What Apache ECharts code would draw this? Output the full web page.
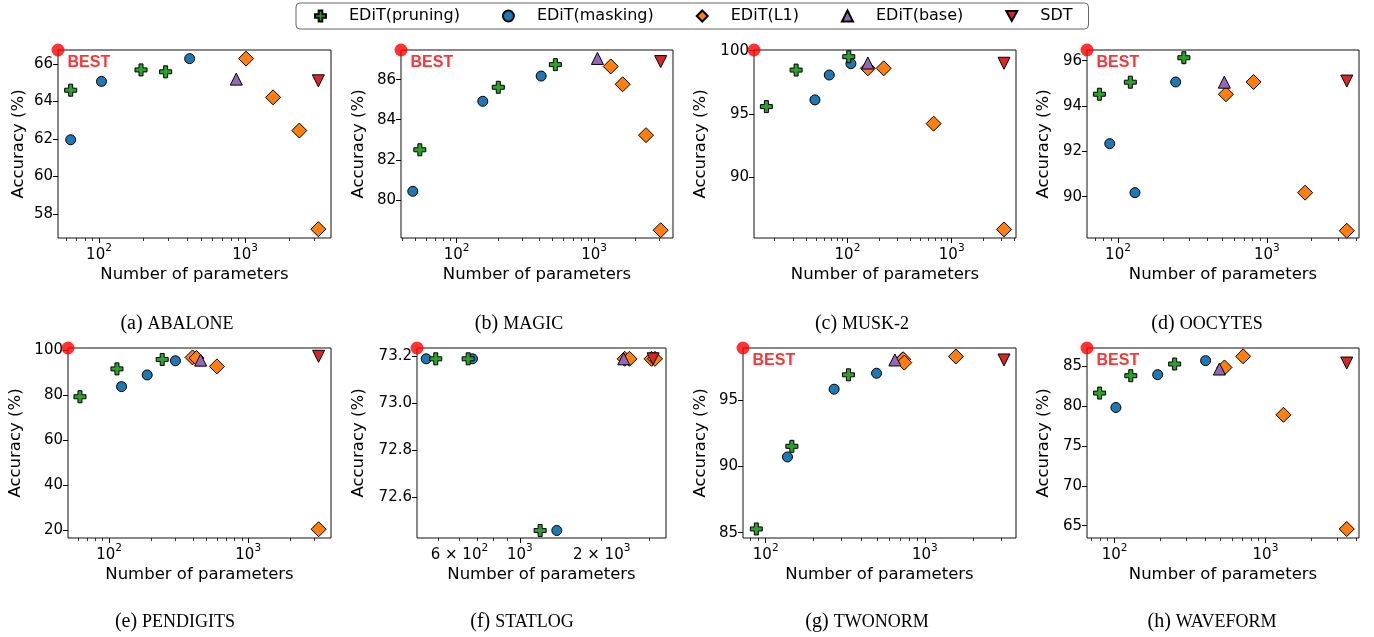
<!DOCTYPE html>
<html>
<head>
<meta charset="utf-8">
<script src="https://cdn.jsdelivr.net/npm/echarts@6/dist/echarts.min.js"></script>
<style>
html, body { margin: 0; padding: 0; background: #fff; }
#chart { width: 1374px; height: 637px; }
</style>
</head>
<body>
<div id="chart"></div>
<script>
// values: [number of parameters, accuracy (%)]
var abalonePruning = [[64, 64.6], [194, 65.68], [286, 65.58]];
var abaloneMasking = [[64, 61.96], [104, 65.07], [418, 66.28]];
var abaloneL1 = [[1016, 66.28], [1556, 64.22], [2355, 62.45], [3178, 57.2]];
var abaloneBase = [[871, 65.19]];
var abaloneSdt = [[3178, 65.1]];

var magicPruning = [[54, 82.5], [201, 85.62], [523, 86.75]];
var magicMasking = [[48, 80.43], [155, 84.92], [412, 86.18]];
var magicL1 = [[1322, 86.66], [1614, 85.77], [2387, 83.23], [3050, 78.49]];
var magicBase = [[1058, 87.06]];
var magicSdt = [[3050, 86.9]];

var muskPruning = [[16.7, 95.57], [32.2, 98.46], [103, 99.52]];
var muskMasking = [[48.8, 96.1], [67, 98.07], [108, 98.97]];
var muskL1 = [[157, 98.6], [223, 98.6], [671, 94.22], [3178, 85.85]];
var muskBase = [[157, 99.02]];
var muskSdt = [[3178, 99.0]];

var oocytesPruning = [[75, 94.52], [121, 95.05], [277, 96.13]];
var oocytesMasking = [[88, 92.34], [130, 90.18], [244, 95.06]];
var oocytesL1 = [[531, 94.52], [814, 95.06], [1808, 90.18], [3445, 88.5]];
var oocytesBase = [[518, 95.05]];
var oocytesSdt = [[3445, 95.1]];

var pendigitsPruning = [[61.8, 79.3], [114, 91.7], [241, 95.9]];
var pendigitsMasking = [[123, 83.8], [188, 89.0], [300, 95.3]];
var pendigitsL1 = [[398, 96.8], [425, 96.5], [596, 92.8], [3206, 20.3]];
var pendigitsBase = [[455, 95.6]];
var pendigitsSdt = [[3206, 97.3]];

var statlogPruning = [[491, 73.19], [646, 73.19], [1188, 72.46]];
var statlogMasking = [[453, 73.19], [670, 73.19], [1368, 72.46]];
var statlogL1 = [[2430, 73.19], [2530, 73.19], [3050, 73.19], [3140, 73.19]];
var statlogBase = [[2410, 73.19]];
var statlogSdt = [[3090, 73.19]];

var twonormPruning = [[87.3, 85.28], [146, 91.5], [331, 96.88]];
var twonormMasking = [[137, 90.7], [269, 95.8], [497, 97.0]];
var twonormL1 = [[720, 98.0], [731, 98.05], [742, 97.8], [1566, 98.26]];
var twonormBase = [[648, 98.0]];
var twonormSdt = [[3140, 98.0]];

var waveformPruning = [[79.5, 81.65], [128, 83.83], [250, 85.3]];
var waveformMasking = [[102, 79.84], [193, 83.96], [401, 85.72]];
var waveformL1 = [[535, 84.87], [711, 86.26], [1316, 78.92], [3459, 64.58]];
var waveformBase = [[495, 84.67]];
var waveformSdt = [[3459, 85.42]];

// tick labels
var abaloneYTicks = [58, 60, 62, 64, 66];
var magicYTicks = [80, 82, 84, 86];
var muskYTicks = [90, 95, 100];
var oocytesYTicks = [90, 92, 94, 96];
var pendigitsYTicks = [20, 40, 60, 80, 100];
var statlogYTicks = [72.6, 72.8, 73.0, 73.2];
var twonormYTicks = [85, 90, 95];
var waveformYTicks = [65, 70, 75, 80, 85];
var decadeXTicks = [100, 1000];
var statlogXTicks = [600, 1000, 2000];

var methodNames = ['EDiT(pruning)', 'EDiT(masking)', 'EDiT(L1)', 'EDiT(base)', 'SDT'];

var plusPath = 'path://M-1,-3H1V-1H3V1H1V3H-1V1H-3V-1H-1Z';
var downTriPath = 'path://M0,0L10,0L5,9Z';
var methodStyles = [
	{ symbol: plusPath, size: 12, rotate: 0, color: '#2ca02c', z: 3 },
	{ symbol: 'circle', size: 10, rotate: 0, color: '#1f77b4', z: 2 },
	{ symbol: 'diamond', size: 15, rotate: 0, color: '#ff7f0e', z: 4 },
	{ symbol: 'triangle', size: 12, rotate: 0, color: '#9467bd', z: 5 },
	{ symbol: 'triangle', size: 12, rotate: 180, color: '#d62728', z: 6 }
];

var panels = [
	{ tag: '(a)', title: 'ABALONE', sets: [abalonePruning, abaloneMasking, abaloneL1, abaloneBase, abaloneSdt],
		yTicks: abaloneYTicks, xTicks: decadeXTicks, xRange: [52.4, 3880], yRange: [56.73, 66.74],
		box: [58, 50, 273, 188], yGap: 31, best: true, cap: [172, 309], digits: 0 },
	{ tag: '(b)', title: 'MAGIC', sets: [magicPruning, magicMasking, magicL1, magicBase, magicSdt],
		yTicks: magicYTicks, xTicks: decadeXTicks, xRange: [39.4, 3750], yRange: [78.1, 87.48],
		box: [401, 50, 272, 188], yGap: 34, best: true, cap: [514, 309], digits: 0 },
	{ tag: '(c)', title: 'MUSK-2', sets: [muskPruning, muskMasking, muskL1, muskBase, muskSdt],
		yTicks: muskYTicks, xTicks: decadeXTicks, xRange: [12.7, 4140], yRange: [85.17, 100.05],
		box: [754, 50, 262, 188], yGap: 45, best: false, cap: [857, 309], digits: 0 },
	{ tag: '(d)', title: 'OOCYTES', sets: [oocytesPruning, oocytesMasking, oocytesL1, oocytesBase, oocytesSdt],
		yTicks: oocytesYTicks, xTicks: decadeXTicks, xRange: [61.9, 4160], yRange: [88.18, 96.47],
		box: [1087, 50, 272, 188], yGap: 35, best: true, cap: [1202, 309], digits: 0 },
	{ tag: '(e)', title: 'PENDIGITS', sets: [pendigitsPruning, pendigitsMasking, pendigitsL1, pendigitsBase, pendigitsSdt],
		yTicks: pendigitsYTicks, xTicks: decadeXTicks, xRange: [50.7, 3936], yRange: [16.4, 101.0],
		box: [68, 348, 263, 190], yGap: 44, best: false, cap: [170, 607], digits: 0 },
	{ tag: '(f)', title: 'STATLOG', sets: [statlogPruning, statlogMasking, statlogL1, statlogBase, statlogSdt],
		yTicks: statlogYTicks, xTicks: statlogXTicks, xMajor: [1000], xRange: [419, 3447], yRange: [72.428, 73.236],
		box: [417, 348, 249, 190], yGap: 50, best: false, cap: [517, 607], digits: 1 },
	{ tag: '(g)', title: 'TWONORM', sets: [twonormPruning, twonormMasking, twonormL1, twonormBase, twonormSdt],
		yTicks: twonormYTicks, xTicks: decadeXTicks, xRange: [72, 3736], yRange: [84.6, 98.9],
		box: [743, 348, 273, 190], yGap: 34, best: true, cap: [862, 607], digits: 0 },
	{ tag: '(h)', title: 'WAVEFORM', sets: [waveformPruning, waveformMasking, waveformL1, waveformBase, waveformSdt],
		yTicks: waveformYTicks, xTicks: decadeXTicks, xRange: [65.6, 4170], yRange: [63.45, 87.31],
		box: [1087, 348, 272, 190], yGap: 35, best: true, cap: [1207, 607], digits: 0 }
];

var textFont = 'DejaVu Sans';

function minorTicks(lo, hi) {
	var out = [];
	for (var e = -1; e < 6; e++) {
		for (var m = 2; m <= 9; m++) {
			var v = m * Math.pow(10, e);
			if (v >= lo && v <= hi) out.push(v);
		}
	}
	return out;
}

function powLabel(v) {
	var e = Math.floor(Math.log10(v) + 1e-9);
	var m = Math.round(v / Math.pow(10, e));
	var base = m === 1 ? '10' : m + ' \u00d7 10';
	return '{n|' + base + '}{s|' + e + '}';
}

var powRich = {
	n: { fontSize: 15, fontFamily: textFont, color: '#000', lineHeight: 20, verticalAlign: 'bottom' },
	s: { fontSize: 10.5, fontFamily: textFont, color: '#000', lineHeight: 20, verticalAlign: 'top' }
};

var grids = [], xAxes = [], yAxes = [], series = [], titles = [];

panels.forEach(function (p, i) {
	grids.push({
		left: p.box[0], top: p.box[1], width: p.box[2], height: p.box[3],
		show: true, borderColor: '#111', borderWidth: 1, backgroundColor: 'transparent'
	});
	var majors = p.xMajor || p.xTicks.filter(function (v) { return v >= p.xRange[0] && v <= p.xRange[1]; });
	xAxes.push({
		gridIndex: i, type: 'log', position: 'bottom', min: p.xRange[0], max: p.xRange[1],
		axisLine: { show: false }, splitLine: { show: false },
		axisTick: { customValues: majors, length: 5, lineStyle: { color: '#000', width: 1 } },
		axisLabel: { customValues: p.xTicks, formatter: powLabel, rich: powRich, margin: 5 },
		name: 'Number of parameters', nameLocation: 'middle', nameGap: 28,
		nameTextStyle: { fontSize: 16.5, fontFamily: textFont, color: '#000' }
	});
	xAxes.push({
		gridIndex: i, type: 'log', position: 'bottom', min: p.xRange[0], max: p.xRange[1],
		axisLine: { show: false }, splitLine: { show: false },
		axisTick: { customValues: minorTicks(p.xRange[0], p.xRange[1]), length: 3, lineStyle: { color: '#000', width: 0.8 } },
		axisLabel: { show: false }
	});
	yAxes.push({
		gridIndex: i, type: 'value', min: p.yRange[0], max: p.yRange[1],
		axisLine: { show: false }, splitLine: { show: false },
		axisTick: { customValues: p.yTicks, length: 5, lineStyle: { color: '#000', width: 1 } },
		axisLabel: {
			customValues: p.yTicks, margin: 5, fontSize: 15, fontFamily: textFont, color: '#000',
			formatter: function (v) { return Number(v).toFixed(p.digits); }
		},
		name: 'Accuracy (%)', nameLocation: 'middle', nameGap: p.yGap,
		nameTextStyle: { fontSize: 16.5, fontFamily: textFont, color: '#000' }
	});
	p.sets.forEach(function (pts, k) {
		var st = methodStyles[k];
		series.push({
			type: 'scatter', name: methodNames[k], xAxisIndex: 2 * i, yAxisIndex: i,
			data: pts, symbol: st.symbol, symbolSize: st.size, symbolRotate: st.rotate,
			symbolKeepAspect: true, z: st.z,
			itemStyle: { color: st.color, borderColor: '#000', borderWidth: 1, opacity: 1 },
			emphasis: { disabled: true }
		});
	});
	series.push({
		type: 'scatter', name: 'best', xAxisIndex: 2 * i, yAxisIndex: i, clip: false,
		data: [[p.xRange[0], p.yRange[1]]], symbol: 'circle', symbolSize: 13, z: 10,
		itemStyle: { color: '#ff0000' },
		label: {
			show: p.best, formatter: 'BEST', position: 'right', offset: [-2, 13],
			color: '#ff0000', fontWeight: 'bold', fontSize: 16, fontFamily: 'Liberation Sans'
		},
		emphasis: { disabled: true }
	});
	titles.push({
		text: '{a|' + p.tag + ' }{b|' + p.title + '}',
		left: p.cap[0], top: p.cap[1], textAlign: 'center',
		textStyle: {
			rich: {
				a: { fontSize: 20, fontFamily: 'Liberation Serif', color: '#000', fontWeight: 'normal' },
				b: { fontSize: 18, fontFamily: 'Liberation Serif', color: '#000', fontWeight: 'normal' }
			}
		}
	});
});

var legendData = methodNames.map(function (n) {
	return n === 'SDT' ? { name: n, icon: downTriPath } : { name: n };
});

var chart = echarts.init(document.getElementById('chart'));
chart.setOption({
	animation: false,
	backgroundColor: '#fff',
	title: titles,
	legend: {
		data: legendData, top: 3, left: 296,
		borderColor: '#666', borderWidth: 1, borderRadius: 4, padding: [5, 16, 5, 18],
		itemWidth: 11, itemHeight: 11, itemGap: 42,
		textStyle: { fontSize: 16, fontFamily: textFont, color: '#000', padding: [0, 0, 0, 18] }
	},
	grid: grids,
	xAxis: xAxes,
	yAxis: yAxes,
	series: series
});
</script>
</body>
</html>
